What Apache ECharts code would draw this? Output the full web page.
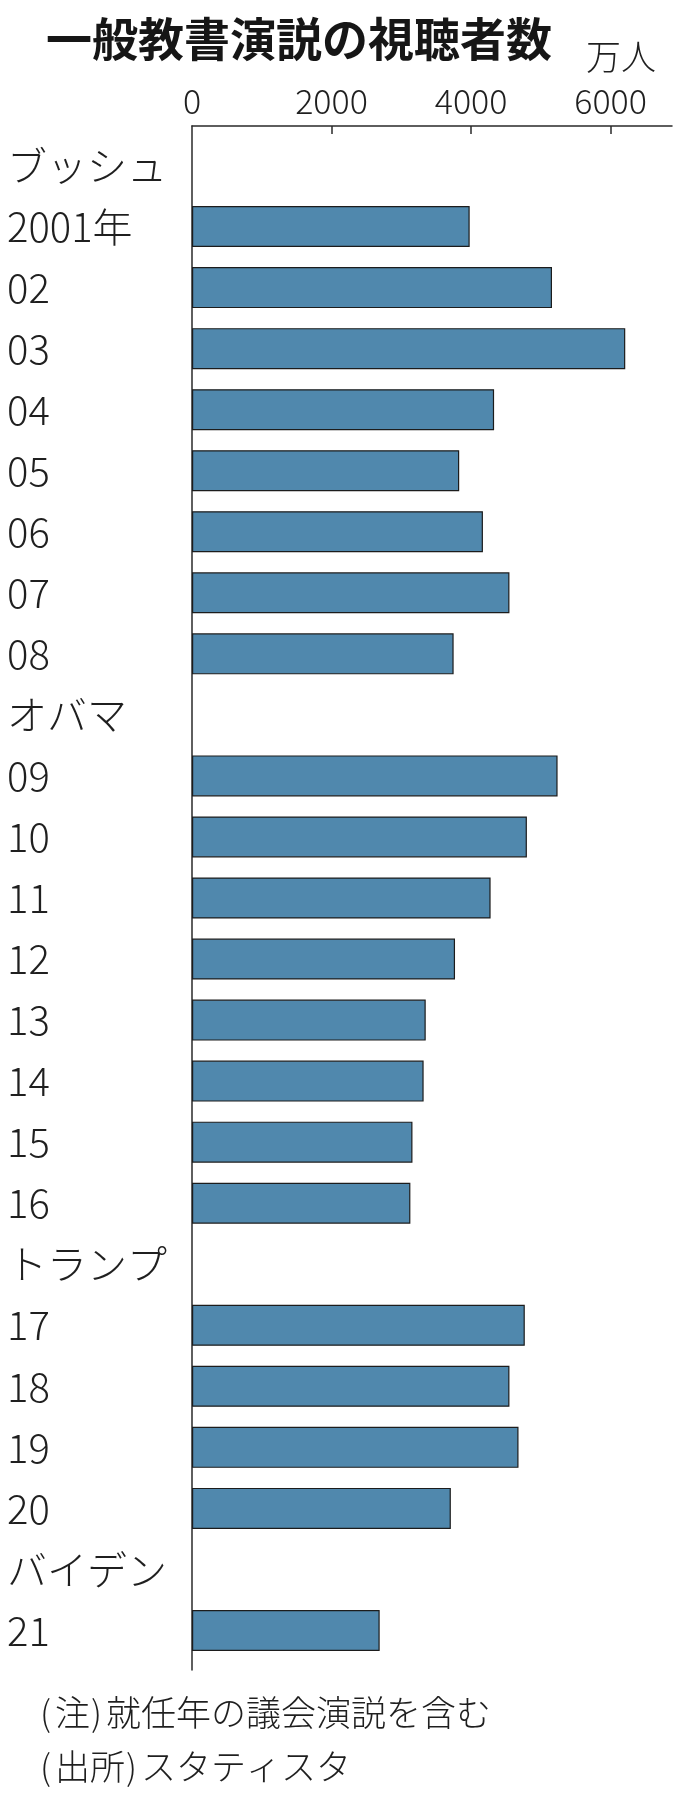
<!DOCTYPE html>
<html>
<head>
<meta charset="utf-8">
<script src="https://cdn.jsdelivr.net/npm/echarts@6/dist/echarts.min.js"></script>
<style>
html,body{margin:0;padding:0;background:#fff;}
#chart{width:696px;height:1793px;}
</style>
</head>
<body>
<div id="chart"></div>
<script>
// ---- data ----
const titleText = '一般教書演説の視聴者数';
const unitText = '万人';
const noteLines = ['(注)就任年の議会演説を含む', '(出所)スタティスタ'];
const categories = [
  'ブッシュ', '2001年', '02', '03', '04', '05', '06', '07', '08',
  'オバマ', '09', '10', '11', '12', '13', '14', '15', '16',
  'トランプ', '17', '18', '19', '20',
  'バイデン', '21'
];
const viewers = [
  null, 3980, 5160, 6210, 4330, 3830, 4170, 4550, 3750,
  null, 5240, 4800, 4280, 3770, 3350, 3320, 3160, 3130,
  null, 4770, 4550, 4680, 3710,
  null, 2690
];
const tickLabels = [0, 2000, 4000, 6000];
const tickMarks = [2000, 4000, 6000];
const axisMax = 6880;

// ---- chart ----
const jp = '"Noto Sans CJK JP", "Noto Sans", sans-serif';
const ink = '#1f1f1f';
const noteStyle = {fontFamily: jp, fontSize: 35, fontWeight: 300, color: ink, lineHeight: 35};
const parenRich = {p: {fontFamily: jp, fontSize: 35, fontWeight: 300, color: ink, lineHeight: 35, padding: [0, 4, 0, 1]}};
const richNote = s => s.replace('(', '{p|(}').replace(')', '{p|)}');

const chart = echarts.init(document.getElementById('chart'), null, {renderer: 'canvas'});
chart.setOption({
  backgroundColor: '#ffffff',
  animation: false,
  title: [
    {text: titleText, left: 41, top: 11,
     textStyle: {fontFamily: jp, fontSize: 46, fontWeight: 'bold', color: '#161616', lineHeight: 46}},
    {text: unitText, left: 581, top: 34,
     textStyle: {fontFamily: jp, fontSize: 35, fontWeight: 300, color: ink, lineHeight: 35}},
    {text: richNote(noteLines[0]), left: 34, top: 1690,
     textStyle: Object.assign({rich: parenRich}, noteStyle)},
    {text: richNote(noteLines[1]), left: 34, top: 1744,
     textStyle: Object.assign({rich: parenRich}, noteStyle)}
  ],
  grid: [
    {left: 192, right: 24, top: 126, bottom: 123, containLabel: false},
    {left: 192, right: 24, top: 135, bottom: 132, containLabel: false}
  ],
  xAxis: [
    {gridIndex: 0, type: 'value', position: 'top', min: 0, max: axisMax, interval: 2000,
     axisLine: {show: true, onZero: false, lineStyle: {color: '#2a2a2a', width: 1.5}},
     axisTick: {show: true, inside: true, length: 8, customValues: tickMarks,
                lineStyle: {color: '#2a2a2a', width: 1.5}},
     axisLabel: {show: true, customValues: tickLabels, margin: 8,
                 formatter: v => String(v),
                 fontFamily: jp, fontSize: 34, fontWeight: 300, lineHeight: 34, color: ink},
     splitLine: {show: false}},
    {gridIndex: 1, type: 'value', min: 0, max: axisMax, show: false, splitLine: {show: false}}
  ],
  yAxis: [
    {gridIndex: 0, type: 'value', min: 0, max: 1,
     axisLine: {show: true, onZero: false, lineStyle: {color: '#2a2a2a', width: 1.5}},
     axisTick: {show: false}, axisLabel: {show: false}, splitLine: {show: false}},
    {gridIndex: 1, type: 'category', data: categories, inverse: true,
     axisLine: {show: false}, axisTick: {show: false}, splitLine: {show: false},
     axisLabel: {show: true, interval: 0, align: 'left', margin: 185, padding: [0, 0, 14, 0],
                 fontFamily: jp, fontSize: 40, fontWeight: 300, color: ink}}
  ],
  series: [{
    type: 'bar', xAxisIndex: 1, yAxisIndex: 1, data: viewers, barWidth: 41,
    itemStyle: {color: '#5088ad', borderColor: '#1c1c1c', borderWidth: 1.2},
    silent: true
  }]
});
</script>
</body>
</html>
